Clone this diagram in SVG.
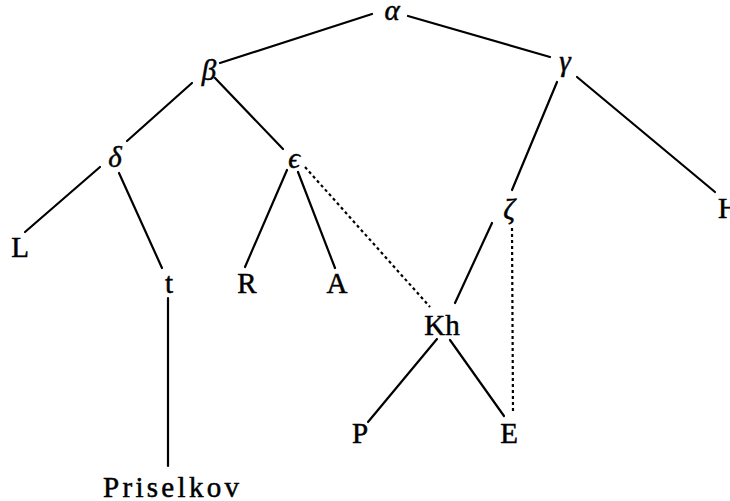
<svg xmlns="http://www.w3.org/2000/svg" width="730" height="501" viewBox="0 0 730 501">
  <style>
    .lbl { font-family: "Liberation Serif", "Times New Roman", serif; font-size: 29px; fill: #000; stroke: #000; stroke-width: 0.5; text-anchor: middle; }
    .gr { font-style: italic; }
    .edge { stroke: #000; stroke-width: 2.2; fill: none; stroke-linecap: round; }
    .dot { stroke: #000; stroke-width: 2.2; fill: none; stroke-dasharray: 3 3; }
  </style>
  <rect width="730" height="501" fill="#fff"/>
  <g id="connectors">
    <line class="edge" x1="372" y1="14" x2="220" y2="63"/>
    <line class="edge" x1="408" y1="16" x2="550" y2="57"/>
    <line class="edge" x1="192" y1="83" x2="127" y2="141"/>
    <line class="edge" x1="215" y1="78" x2="283" y2="149"/>
    <line class="edge" x1="557" y1="82" x2="512" y2="190"/>
    <line class="edge" x1="577" y1="77" x2="715" y2="192"/>
    <line class="edge" x1="100" y1="167" x2="25" y2="232"/>
    <line class="edge" x1="119" y1="173" x2="162" y2="268"/>
    <line class="edge" x1="168" y1="298" x2="168" y2="466"/>
    <line class="edge" x1="287" y1="170" x2="245" y2="267"/>
    <line class="edge" x1="298" y1="172" x2="335" y2="268"/>
    <line class="dot" x1="305" y1="167" x2="430" y2="307"/>
    <line class="edge" x1="492" y1="223" x2="455" y2="303"/>
    <line class="dot" x1="512" y1="228" x2="513" y2="413"/>
    <line class="edge" x1="437" y1="339" x2="368" y2="422"/>
    <line class="edge" x1="450" y1="340" x2="504" y2="416"/>
  </g>
  <g id="n-alpha"><text class="lbl gr" x="392" y="20">α</text></g>
  <g id="n-beta"><text class="lbl gr" x="209" y="80">β</text></g>
  <g id="n-gamma"><text class="lbl gr" x="565" y="71">γ</text></g>
  <g id="n-delta"><text class="lbl gr" x="115" y="167">δ</text></g>
  <g id="n-epsilon"><text class="lbl gr" x="294" y="168">ϵ</text></g>
  <g id="n-zeta"><text class="lbl gr" x="509" y="219">ζ</text></g>
  <g id="n-H"><text class="lbl" x="718" y="218" style="text-anchor:start">H</text></g>
  <g id="n-L"><text class="lbl" x="20" y="257">L</text></g>
  <g id="n-t"><text class="lbl" x="169" y="293">t</text></g>
  <g id="n-R"><text class="lbl" x="247" y="293">R</text></g>
  <g id="n-A"><text class="lbl" x="337" y="293">A</text></g>
  <g id="n-Kh"><text class="lbl" x="442" y="335">Kh</text></g>
  <g id="n-P"><text class="lbl" x="360" y="443">P</text></g>
  <g id="n-E"><text class="lbl" x="509" y="443">E</text></g>
  <g id="n-Priselkov"><text class="lbl" x="171" y="497" textLength="136" lengthAdjust="spacing">Priselkov</text></g>
</svg>
